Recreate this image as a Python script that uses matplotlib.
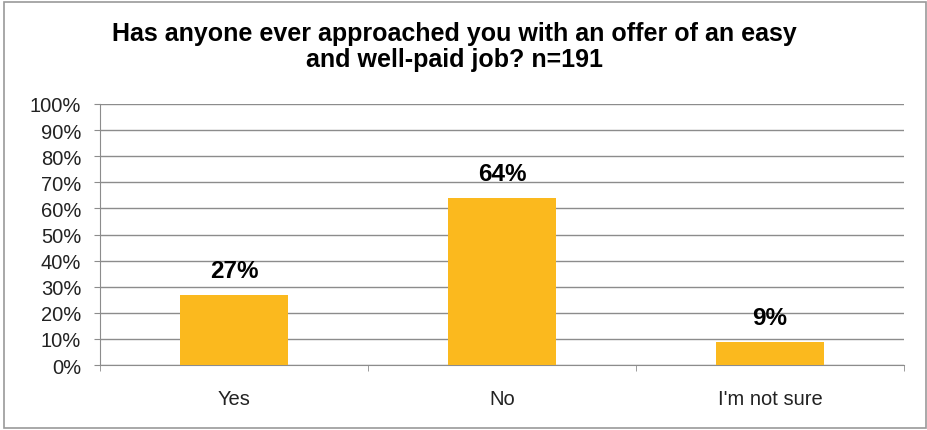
import matplotlib.pyplot as plt
import numpy as np

categories = ['Yes', 'No', "I'm not sure"]
shares = [27, 64, 9]
yticks = list(range(0, 101, 10))

plt.rcParams['font.family'] = ['Liberation Sans', 'DejaVu Sans']

fig = plt.figure(figsize=(9.28, 4.31), dpi=100)
ax = fig.add_axes([100 / 928, 1 - 366 / 431, 804 / 928, 261 / 431])

x = np.arange(len(categories))
ax.bar(x, shares, width=0.4, color='#FBB91E', zorder=3)
for xi, v in zip(x, shares):
    ax.annotate(f'{v}%', (xi, v), xytext=(0, 9), textcoords='offset points',
                ha='center', va='bottom', fontsize=17.5, fontweight='bold')

ax.set_xlim(-0.5, len(categories) - 0.5)
ax.set_ylim(0, 100)
ax.set_yticks(yticks)
ax.set_yticklabels([f'{t}%' for t in yticks], fontsize=14.5, color='#222222')
ax.yaxis.grid(True, color='#8c8c8c', linewidth=1, zorder=0)

ax.set_xticks(x)
ax.set_xticklabels(categories, fontsize=14.5, color='#222222')
ax.tick_params(axis='x', which='major', length=0, pad=17.5)
ax.set_xticks(np.arange(-0.5, len(categories)), minor=True)
ax.tick_params(axis='x', which='minor', length=4.5, color='#8c8c8c', direction='out')
ax.tick_params(axis='y', length=4.5, color='#8c8c8c', pad=9)

for s in ['top', 'right']:
    ax.spines[s].set_visible(False)
for s in ['left', 'bottom']:
    ax.spines[s].set_color('#8c8c8c')

fig.text(0.49, 0.948, 'Has anyone ever approached you with an offer of an easy\nand well-paid job? n=191',
         ha='center', va='top', fontsize=18, fontweight='bold', linespacing=1.1)

# outer frame around the chart
fig.patches.append(plt.Rectangle((0.004, 0.004), 0.994, 0.99, transform=fig.transFigure,
                                 fill=False, edgecolor='#9a9a9a', linewidth=1.2))

fig.savefig('out.png', dpi=100)
